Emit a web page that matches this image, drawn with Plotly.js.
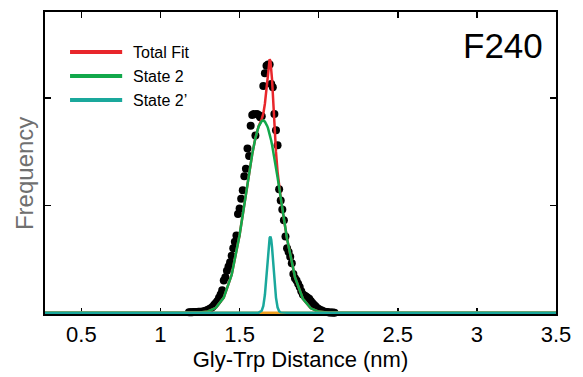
<!DOCTYPE html>
<html>
<head>
<meta charset="utf-8">
<script src="https://cdn.plot.ly/plotly-3.0.1.min.js"></script>
<style>html,body{margin:0;padding:0;background:#fff;}#chart{width:583px;height:377px;}</style>
</head>
<body>
<div id="chart"></div>
<script>
// Histogram points (distance in nm, frequency in arbitrary units)
const dataX = [1.18,1.19,1.20,1.21,1.22,1.23,1.24,1.25,1.26,1.27,1.28,1.29,1.30,1.31,1.32,1.33,1.34,1.35,1.36,1.37,1.38,1.39,1.40,1.41,1.42,1.43,1.44,1.45,1.46,1.47,1.48,1.49,1.50,1.51,1.52,1.53,1.54,1.55,1.56,1.57,1.58,1.59,1.60,1.61,1.62,1.63,1.64,1.65,1.66,1.67,1.68,1.69,1.70,1.71,1.72,1.73,1.74,1.75,1.76,1.77,1.78,1.79,1.80,1.81,1.82,1.83,1.84,1.85,1.86,1.87,1.88,1.89,1.90,1.91,1.92,1.93,1.94,1.95,1.96,1.97,1.98,1.99,2.00,2.01,2.02,2.03,2.04,2.05,2.06,2.07,2.08,2.09,2.10];
const dataY = [0.005,0.005,0.005,0.006,0.006,0.007,0.008,0.009,0.01,0.012,0.015,0.02,0.028,0.035,0.045,0.055,0.075,0.09,0.11,0.14,0.17,0.21,0.30,0.33,0.39,0.43,0.47,0.53,0.60,0.66,0.72,0.92,0.97,1.06,1.14,1.27,1.34,1.53,1.46,1.74,1.84,1.85,1.65,1.85,1.84,1.82,1.83,2.11,2.23,2.30,2.31,2.31,2.13,2.10,1.85,1.70,1.56,1.15,1.045,0.96,0.86,0.71,0.60,0.565,0.52,0.46,0.36,0.32,0.30,0.27,0.24,0.20,0.17,0.16,0.15,0.14,0.13,0.11,0.09,0.075,0.06,0.045,0.035,0.025,0.02,0.012,0.008,0.006,0.004,0.003,0.002,0.001,0.0];

// Fit curves
const fitX = [0.27,1.0,1.15,1.2,1.25,1.3,1.35,1.4,1.45,1.5,1.55,1.58,1.6,1.62,1.64,1.65,1.66,1.67,1.675,1.68,1.685,1.69,1.695,1.70,1.705,1.71,1.715,1.72,1.73,1.74,1.75,1.76,1.78,1.8,1.85,1.9,1.95,2.0,2.05,2.1,2.15,2.5,3.5];
const totalFit = [0,0,0,0.0004,0.0026,0.012,0.0456,0.141,0.354,0.724,1.204,1.479,1.627,1.734,1.804,1.853,1.946,2.101,2.189,2.272,2.334,2.360,2.344,2.280,2.175,2.043,1.896,1.750,1.497,1.312,1.179,1.069,0.871,0.689,0.332,0.130,0.0413,0.0107,0.0023,0.0004,0,0,0];
const state2 = [0,0,0,0.0004,0.0026,0.012,0.0456,0.141,0.354,0.724,1.204,1.479,1.627,1.733,1.785,1.790,1.779,1.755,1.737,1.716,1.692,1.664,1.634,1.601,1.565,1.527,1.487,1.445,1.356,1.262,1.165,1.066,0.871,0.689,0.332,0.130,0.0413,0.0107,0.0023,0.0004,0,0,0];
const state2p = [0,0,0,0,0,0,0,0,0,0,0,0,0,0.0008,0.0186,0.0631,0.167,0.346,0.452,0.556,0.642,0.696,0.710,0.679,0.610,0.516,0.409,0.305,0.1405,0.0504,0.0141,0.003,0,0,0,0,0,0,0,0,0,0,0];
const state1 = [0,0,0,0,0,0,0,0,0,0,0,0,0,0,0,0,0,0,0,0,0,0,0,0,0,0,0,0,0,0,0,0,0,0,0,0,0,0,0,0,0,0,0];

const xTicks = [0.5,1,1.5,2,2.5,3,3.5];
const xTickText = ['0.5','1','1.5','2','2.5','3','3.5'];
const names = ['Total Fit','State 2','State 2\u2019'];
const colors = ['#e8262b','#12a84b','#1aa89c','#f0a020'];

const traces = [
  {x:dataX, y:dataY, type:'scatter', mode:'markers', showlegend:false,
   marker:{color:'#000', size:8}, cliponaxis:false},
  {x:fitX, y:totalFit, type:'scatter', mode:'lines', name:names[0], showlegend:false,
   line:{color:colors[0], width:2.5}},
  {x:fitX, y:state2, type:'scatter', mode:'lines', name:names[1], showlegend:false,
   line:{color:colors[1], width:2.5}},
  {x:fitX, y:state1, type:'scatter', mode:'lines', showlegend:false,
   line:{color:colors[3], width:2.5}},
  {x:fitX, y:state2p, type:'scatter', mode:'lines', name:names[2], showlegend:false,
   line:{color:colors[2], width:2.5}}
];

// Legend drawn as key samples + labels (paper coordinates)
const legY = [0.8675, 0.788, 0.7086];
const shapes = [];
const annotations = [];
names.forEach((n, i) => {
  shapes.push({type:'line', xref:'paper', yref:'paper', x0:0.049, x1:0.151, y0:legY[i], y1:legY[i],
               line:{color:colors[i], width:4}});
  annotations.push({text:n, xref:'paper', yref:'paper', x:0.168, y:legY[i], xanchor:'left',
                    yanchor:'middle', showarrow:false, font:{size:16, color:'#000'}});
});
annotations.push({text:'F240', xref:'paper', yref:'paper', x:0.978, y:0.888, xanchor:'right',
                  yanchor:'middle', showarrow:false, font:{size:35, color:'#000'}});
annotations.push({text:'Frequency', xref:'paper', yref:'paper', x:-0.039, y:0.4636, xanchor:'center',
                  yanchor:'middle', textangle:-90, showarrow:false, font:{size:24, color:'#707070'}});

const layout = {
  width:583, height:377,
  margin:{l:45, r:27, t:12, b:63},
  paper_bgcolor:'#fff', plot_bgcolor:'#fff',
  font:{family:'Liberation Sans, Arial, sans-serif', color:'#000'},
  showlegend:false,
  xaxis:{range:[0.27,3.5], tickvals:xTicks, ticktext:xTickText, ticks:'inside', ticklen:6,
         tickwidth:1.5, tickcolor:'#000', showline:true, linecolor:'#000', linewidth:2,
         mirror:'ticks', showgrid:false, zeroline:false, layer:'below traces',
         tickfont:{size:22}, title:{text:'Gly-Trp Distance (nm)', font:{size:22}, standoff:2}},
  yaxis:{range:[-0.012,2.8], dtick:1, tick0:0, ticks:'inside', ticklen:6, tickwidth:1.5,
         tickcolor:'#000', showticklabels:false, showline:true, linecolor:'#000', linewidth:2,
         mirror:'ticks', showgrid:false, zeroline:false, layer:'below traces'},
  shapes: shapes,
  annotations: annotations
};

Plotly.newPlot('chart', traces, layout, {staticPlot:true, displayModeBar:false});
</script>
</body>
</html>
